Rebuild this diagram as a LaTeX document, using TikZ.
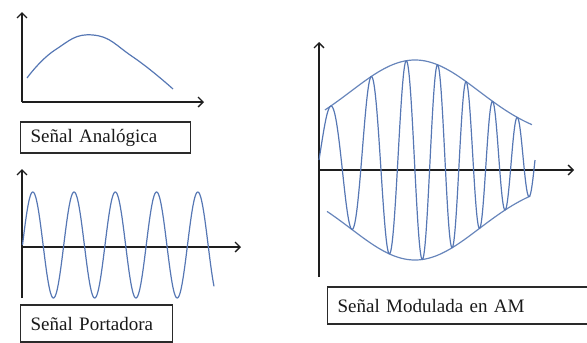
\documentclass[tikz,border=0pt]{standalone}
\usepackage{fontspec}
\setmainfont{Liberation Serif}
\usepackage{xcolor}
\usepackage{tikz}
\usetikzlibrary{positioning, arrows.meta}
\definecolor{sigBlue}{HTML}{5677B4}
\definecolor{axInk}{HTML}{1E1E1E}
\definecolor{boxInk}{HTML}{2A2A2A}
\tikzset{
  axis/.style={
    -{Straight Barb[length=5pt, width=10pt]},
    axInk, line width=1.3pt
  },
  signal/.style={
    sigBlue, line width=1.2pt, line join=round
  },
  envelope/.style={
    sigBlue!90, line width=1.2pt
  },
  caption/.style={
    rectangle, draw=boxInk, line width=1.3pt,
    anchor=west, inner xsep=10pt, inner ysep=0pt,
    align=left, text=black!90,
    font=\fontsize{19}{22}\selectfont
  }
}
\begin{document}
\begin{tikzpicture}[x=1pt, y=-1pt,
    declare function={
      env(\t)=20+80*exp(-(((\t-415)/91)^2));
      u(\t)=(\t-319)/216;
      ph(\t)=360*(7*u(\t)-2.4*u(\t)*(1-u(\t)));
    }]
  \useasboundingbox (0,0) rectangle (587,343);
  % analog signal
  \coordinate (oa) at (22,102);
  \draw[axis] (oa) -- (22,12);
  \draw[axis] (oa) -- (204,102);
  \draw[signal] plot[smooth, tension=0.8] coordinates {(27,78) (55,50) (93,35) (133,57) (173,89)};
  \node[caption, text width=150pt, minimum height=31pt] (analogbox) at (20,137.5) {Señal Analógica};
  % carrier
  \coordinate (oc) at (22,247);
  \draw[axis] (22,298) -- (22,169);
  \draw[axis] (oc) -- (241,247);
  \draw[signal] plot[domain=22.5:214, samples=300] (\x, {245-53*sin(360/41.25*(\x-22.5))});
  \node[caption, text width=132pt, minimum height=37pt] (carrierbox) at (20,323.5) {Señal Portadora};
  % modulated signal
  \coordinate (om) at (319,170);
  \draw[axis] (319,277) -- (319,42);
  \draw[axis] (om) -- (574,170);
  \draw[envelope] plot[domain=325:532, samples=80] (\x, {160-env(\x)});
  \draw[envelope] plot[domain=327:530, samples=80] (\x, {160+env(\x)});
  \draw[signal] plot[domain=319:535, samples=500] (\x, {160-env(\x)*sin(ph(\x))});
  \node[caption, text width=243pt, minimum height=37pt] (ambox) at (327,305.5) {Señal Modulada en AM};
\end{tikzpicture}
\end{document}
